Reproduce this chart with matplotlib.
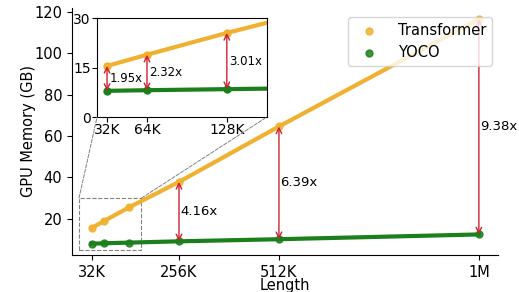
import matplotlib
matplotlib.use("Agg")
import matplotlib.pyplot as plt
from matplotlib.patches import Rectangle, ConnectionPatch

lengths = [32, 64, 128, 256, 512, 1024]
length_labels = ["32K", "64K", "128K", "256K", "512K", "1M"]
transformer_mem = [15.5, 18.9, 25.5, 37.8, 64.6, 116.5]
yoco_mem = [7.95, 8.15, 8.47, 9.09, 10.11, 12.42]
ratios = ["1.95x", "2.32x", "3.01x", "4.16x", "6.39x", "9.38x"]

main_ticks = [32, 256, 512, 1024]
main_tick_labels = ["32K", "256K", "512K", "1M"]
inset_ticks = [32, 64, 128]
inset_tick_labels = ["32K", "64K", "128K"]

c_tr = "#F0B030"
c_yo = "#1B7F1B"
c_arrow = "#CC2233"

fig = plt.figure(figsize=(5.19, 2.92), dpi=100)
ax = fig.add_axes([0.139, 0.127, 0.821, 0.846])

ax.plot(lengths, transformer_mem, color=c_tr, lw=3, zorder=2)
ax.plot(lengths, yoco_mem, color=c_yo, lw=3, zorder=2)
ax.scatter(lengths, transformer_mem, color=c_tr, s=25, zorder=3, label="Transformer", alpha=0.85)
ax.scatter(lengths, yoco_mem, color=c_yo, s=25, zorder=3, label="YOCO", alpha=0.85)

for i in [3, 4, 5]:
    ax.annotate("", xy=(lengths[i], yoco_mem[i]), xytext=(lengths[i], transformer_mem[i]),
                arrowprops=dict(arrowstyle="<->", color=c_arrow, lw=1.0, shrinkA=0, shrinkB=0))
    ax.text(lengths[i] + 4, (yoco_mem[i] + transformer_mem[i]) / 2, ratios[i],
            fontsize=9.5, va="center", ha="left")

ax.set_xticks(main_ticks)
ax.set_xticklabels(main_tick_labels)
ax.set_yticks([20, 40, 60, 80, 100, 120])
ax.tick_params(labelsize=10.5)
ax.set_xlabel("Length", fontsize=10.5, labelpad=-1)
ax.set_ylabel("GPU Memory (GB)", fontsize=10.5, labelpad=-1)
ax.spines["top"].set_visible(False)
ax.spines["right"].set_visible(False)
leg = ax.legend(loc="upper right", fontsize=10.5, framealpha=0.8, borderpad=0.4,
                handletextpad=1.0, borderaxespad=0, bbox_to_anchor=(0.986, 0.964))

# zoom rectangle
rect = Rectangle((0, 5), 160, 25, fill=False, ls="--", lw=0.8, ec="gray", zorder=1)
ax.add_patch(rect)

# inset
axins = fig.add_axes([0.187, 0.599, 0.327, 0.339])
axins.plot(lengths, transformer_mem, color=c_tr, lw=3)
axins.plot(lengths, yoco_mem, color=c_yo, lw=3)
axins.scatter(lengths, transformer_mem, color=c_tr, s=25, zorder=3)
axins.scatter(lengths, yoco_mem, color=c_yo, s=25, zorder=3)
for i in [0, 1, 2]:
    axins.annotate("", xy=(lengths[i], yoco_mem[i]), xytext=(lengths[i], transformer_mem[i]),
                   arrowprops=dict(arrowstyle="<->", color=c_arrow, lw=1.0, shrinkA=0, shrinkB=0))
    axins.text(lengths[i] + 2, (yoco_mem[i] + transformer_mem[i]) / 2, ratios[i],
               fontsize=8.5, va="center", ha="left")
axins.set_xlim(24, 160)
axins.set_ylim(0, 30)
axins.set_xticks(inset_ticks)
axins.set_xticklabels(inset_tick_labels)
axins.set_yticks([0, 15, 30])
axins.tick_params(labelsize=10, pad=1)

for xa, xb in [((0, 30), (0, 0)), ((160, 30), (1, 0))]:
    cp = ConnectionPatch(xyA=xa, coordsA="data", axesA=ax,
                         xyB=xb, coordsB="axes fraction", axesB=axins,
                         color="gray", lw=0.7, ls="--")
    fig.add_artist(cp)

fig.savefig("out.png", dpi=100)
